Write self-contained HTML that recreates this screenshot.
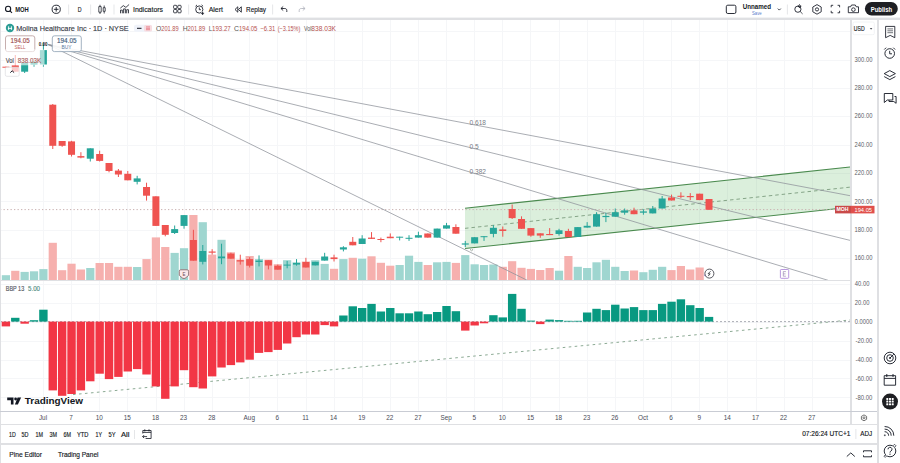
<!DOCTYPE html>
<html><head><meta charset="utf-8"><style>
html,body{margin:0;padding:0}
body{width:900px;height:463px;overflow:hidden;background:#fff;position:relative;font-family:"Liberation Sans",sans-serif;color:#131722}
.a{position:absolute}
svg text{font-family:"Liberation Sans",sans-serif}
</style></head><body>
<svg class="a" style="left:0;top:0" width="900" height="463" viewBox="0 0 900 463">
<g><line x1="43.5" y1="20" x2="43.5" y2="411" stroke="#f5f6f8" stroke-width="1"/>
<line x1="71.5" y1="20" x2="71.5" y2="411" stroke="#f5f6f8" stroke-width="1"/>
<line x1="99.5" y1="20" x2="99.5" y2="411" stroke="#f5f6f8" stroke-width="1"/>
<line x1="127.5" y1="20" x2="127.5" y2="411" stroke="#f5f6f8" stroke-width="1"/>
<line x1="156.5" y1="20" x2="156.5" y2="411" stroke="#f5f6f8" stroke-width="1"/>
<line x1="184.5" y1="20" x2="184.5" y2="411" stroke="#f5f6f8" stroke-width="1"/>
<line x1="212.5" y1="20" x2="212.5" y2="411" stroke="#f5f6f8" stroke-width="1"/>
<line x1="249.5" y1="20" x2="249.5" y2="411" stroke="#f5f6f8" stroke-width="1"/>
<line x1="277.5" y1="20" x2="277.5" y2="411" stroke="#f5f6f8" stroke-width="1"/>
<line x1="306.5" y1="20" x2="306.5" y2="411" stroke="#f5f6f8" stroke-width="1"/>
<line x1="334.5" y1="20" x2="334.5" y2="411" stroke="#f5f6f8" stroke-width="1"/>
<line x1="362.5" y1="20" x2="362.5" y2="411" stroke="#f5f6f8" stroke-width="1"/>
<line x1="390.5" y1="20" x2="390.5" y2="411" stroke="#f5f6f8" stroke-width="1"/>
<line x1="418.5" y1="20" x2="418.5" y2="411" stroke="#f5f6f8" stroke-width="1"/>
<line x1="446.5" y1="20" x2="446.5" y2="411" stroke="#f5f6f8" stroke-width="1"/>
<line x1="474.5" y1="20" x2="474.5" y2="411" stroke="#f5f6f8" stroke-width="1"/>
<line x1="502.5" y1="20" x2="502.5" y2="411" stroke="#f5f6f8" stroke-width="1"/>
<line x1="530.5" y1="20" x2="530.5" y2="411" stroke="#f5f6f8" stroke-width="1"/>
<line x1="559.5" y1="20" x2="559.5" y2="411" stroke="#f5f6f8" stroke-width="1"/>
<line x1="587.5" y1="20" x2="587.5" y2="411" stroke="#f5f6f8" stroke-width="1"/>
<line x1="615.5" y1="20" x2="615.5" y2="411" stroke="#f5f6f8" stroke-width="1"/>
<line x1="643.5" y1="20" x2="643.5" y2="411" stroke="#f5f6f8" stroke-width="1"/>
<line x1="671.5" y1="20" x2="671.5" y2="411" stroke="#f5f6f8" stroke-width="1"/>
<line x1="699.5" y1="20" x2="699.5" y2="411" stroke="#f5f6f8" stroke-width="1"/>
<line x1="727.5" y1="20" x2="727.5" y2="411" stroke="#f5f6f8" stroke-width="1"/>
<line x1="756.5" y1="20" x2="756.5" y2="411" stroke="#f5f6f8" stroke-width="1"/>
<line x1="784.5" y1="20" x2="784.5" y2="411" stroke="#f5f6f8" stroke-width="1"/>
<line x1="812.5" y1="20" x2="812.5" y2="411" stroke="#f5f6f8" stroke-width="1"/>
<line x1="0" y1="31.5" x2="850" y2="31.5" stroke="#f5f6f8" stroke-width="1"/>
<line x1="0" y1="60.5" x2="850" y2="60.5" stroke="#f5f6f8" stroke-width="1"/>
<line x1="0" y1="88.5" x2="850" y2="88.5" stroke="#f5f6f8" stroke-width="1"/>
<line x1="0" y1="116.5" x2="850" y2="116.5" stroke="#f5f6f8" stroke-width="1"/>
<line x1="0" y1="145.5" x2="850" y2="145.5" stroke="#f5f6f8" stroke-width="1"/>
<line x1="0" y1="173.5" x2="850" y2="173.5" stroke="#f5f6f8" stroke-width="1"/>
<line x1="0" y1="201.5" x2="850" y2="201.5" stroke="#f5f6f8" stroke-width="1"/>
<line x1="0" y1="230.5" x2="850" y2="230.5" stroke="#f5f6f8" stroke-width="1"/>
<line x1="0" y1="258.5" x2="850" y2="258.5" stroke="#f5f6f8" stroke-width="1"/>
<line x1="0" y1="284.5" x2="850" y2="284.5" stroke="#f5f6f8" stroke-width="1"/>
<line x1="0" y1="303.5" x2="850" y2="303.5" stroke="#f5f6f8" stroke-width="1"/>
<line x1="0" y1="322.5" x2="850" y2="322.5" stroke="#f5f6f8" stroke-width="1"/>
<line x1="0" y1="341.5" x2="850" y2="341.5" stroke="#f5f6f8" stroke-width="1"/>
<line x1="0" y1="360.5" x2="850" y2="360.5" stroke="#f5f6f8" stroke-width="1"/>
<line x1="0" y1="378.5" x2="850" y2="378.5" stroke="#f5f6f8" stroke-width="1"/>
<line x1="0" y1="397.5" x2="850" y2="397.5" stroke="#f5f6f8" stroke-width="1"/>
<rect x="1.8" y="275.2" width="8.2" height="4.8" fill="#9fd6d0"/>
<rect x="11.17" y="270.8" width="8.2" height="9.2" fill="#f6b0ae"/>
<rect x="20.55" y="271.9" width="8.2" height="8.1" fill="#9fd6d0"/>
<rect x="29.92" y="271.3" width="8.2" height="8.7" fill="#9fd6d0"/>
<rect x="39.3" y="269.1" width="8.2" height="10.9" fill="#9fd6d0"/>
<rect x="48.67" y="242.8" width="8.2" height="37.2" fill="#f6b0ae"/>
<rect x="58.05" y="270.2" width="8.2" height="9.8" fill="#f6b0ae"/>
<rect x="67.43" y="263.7" width="8.2" height="16.3" fill="#f6b0ae"/>
<rect x="76.8" y="269.5" width="8.2" height="10.5" fill="#f6b0ae"/>
<rect x="86.18" y="268" width="8.2" height="12" fill="#9fd6d0"/>
<rect x="95.55" y="263" width="8.2" height="17" fill="#f6b0ae"/>
<rect x="104.93" y="263" width="8.2" height="17" fill="#f6b0ae"/>
<rect x="114.3" y="266.8" width="8.2" height="13.2" fill="#f6b0ae"/>
<rect x="123.68" y="266.8" width="8.2" height="13.2" fill="#f6b0ae"/>
<rect x="133.05" y="267" width="8.2" height="13" fill="#9fd6d0"/>
<rect x="142.43" y="259.1" width="8.2" height="20.9" fill="#f6b0ae"/>
<rect x="151.8" y="237.4" width="8.2" height="42.6" fill="#f6b0ae"/>
<rect x="161.18" y="247" width="8.2" height="33" fill="#f6b0ae"/>
<rect x="170.55" y="252.9" width="8.2" height="27.1" fill="#9fd6d0"/>
<rect x="179.93" y="248.2" width="8.2" height="31.8" fill="#9fd6d0"/>
<rect x="189.3" y="215" width="8.2" height="65" fill="#f6b0ae"/>
<rect x="198.68" y="222.2" width="8.2" height="57.8" fill="#9fd6d0"/>
<rect x="208.05" y="254.6" width="8.2" height="25.4" fill="#f6b0ae"/>
<rect x="217.43" y="239.8" width="8.2" height="40.2" fill="#9fd6d0"/>
<rect x="226.8" y="252.3" width="8.2" height="27.7" fill="#f6b0ae"/>
<rect x="236.18" y="259.6" width="8.2" height="20.4" fill="#f6b0ae"/>
<rect x="245.55" y="256" width="8.2" height="24" fill="#f6b0ae"/>
<rect x="254.92" y="259.1" width="8.2" height="20.9" fill="#9fd6d0"/>
<rect x="264.3" y="259.6" width="8.2" height="20.4" fill="#f6b0ae"/>
<rect x="273.67" y="264.2" width="8.2" height="15.8" fill="#f6b0ae"/>
<rect x="283.05" y="260.2" width="8.2" height="19.8" fill="#9fd6d0"/>
<rect x="292.42" y="262.4" width="8.2" height="17.6" fill="#9fd6d0"/>
<rect x="301.8" y="261.5" width="8.2" height="18.5" fill="#f6b0ae"/>
<rect x="311.17" y="260.2" width="8.2" height="19.8" fill="#9fd6d0"/>
<rect x="320.55" y="263.9" width="8.2" height="16.1" fill="#9fd6d0"/>
<rect x="329.92" y="268.8" width="8.2" height="11.2" fill="#f6b0ae"/>
<rect x="339.3" y="259.1" width="8.2" height="20.9" fill="#9fd6d0"/>
<rect x="348.67" y="257.8" width="8.2" height="22.2" fill="#f6b0ae"/>
<rect x="358.05" y="258.7" width="8.2" height="21.3" fill="#9fd6d0"/>
<rect x="367.42" y="256.3" width="8.2" height="23.7" fill="#f6b0ae"/>
<rect x="376.8" y="262.8" width="8.2" height="17.2" fill="#f6b0ae"/>
<rect x="386.17" y="265.7" width="8.2" height="14.3" fill="#f6b0ae"/>
<rect x="395.55" y="265" width="8.2" height="15" fill="#9fd6d0"/>
<rect x="404.92" y="255.7" width="8.2" height="24.3" fill="#9fd6d0"/>
<rect x="414.3" y="261.9" width="8.2" height="18.1" fill="#9fd6d0"/>
<rect x="423.67" y="265" width="8.2" height="15" fill="#f6b0ae"/>
<rect x="433.05" y="262.3" width="8.2" height="17.7" fill="#9fd6d0"/>
<rect x="442.42" y="261.9" width="8.2" height="18.1" fill="#9fd6d0"/>
<rect x="451.8" y="262.9" width="8.2" height="17.1" fill="#f6b0ae"/>
<rect x="461.17" y="255.1" width="8.2" height="24.9" fill="#9fd6d0"/>
<rect x="470.55" y="264.3" width="8.2" height="15.7" fill="#9fd6d0"/>
<rect x="479.92" y="265" width="8.2" height="15" fill="#9fd6d0"/>
<rect x="489.3" y="264.5" width="8.2" height="15.5" fill="#9fd6d0"/>
<rect x="498.67" y="266.8" width="8.2" height="13.2" fill="#f6b0ae"/>
<rect x="508.05" y="261.2" width="8.2" height="18.8" fill="#f6b0ae"/>
<rect x="517.42" y="267.8" width="8.2" height="12.2" fill="#f6b0ae"/>
<rect x="526.8" y="268.9" width="8.2" height="11.1" fill="#f6b0ae"/>
<rect x="536.17" y="270" width="8.2" height="10" fill="#f6b0ae"/>
<rect x="545.55" y="268" width="8.2" height="12" fill="#f6b0ae"/>
<rect x="554.92" y="270.7" width="8.2" height="9.3" fill="#9fd6d0"/>
<rect x="564.3" y="256" width="8.2" height="24" fill="#f6b0ae"/>
<rect x="573.67" y="266.8" width="8.2" height="13.2" fill="#9fd6d0"/>
<rect x="583.05" y="268" width="8.2" height="12" fill="#9fd6d0"/>
<rect x="592.42" y="262.3" width="8.2" height="17.7" fill="#9fd6d0"/>
<rect x="601.8" y="259.8" width="8.2" height="20.2" fill="#9fd6d0"/>
<rect x="611.17" y="266.8" width="8.2" height="13.2" fill="#9fd6d0"/>
<rect x="620.55" y="271" width="8.2" height="9" fill="#9fd6d0"/>
<rect x="629.92" y="270.5" width="8.2" height="9.5" fill="#f6b0ae"/>
<rect x="639.3" y="272.2" width="8.2" height="7.8" fill="#9fd6d0"/>
<rect x="648.67" y="269.8" width="8.2" height="10.2" fill="#9fd6d0"/>
<rect x="658.05" y="266.8" width="8.2" height="13.2" fill="#9fd6d0"/>
<rect x="667.42" y="270.1" width="8.2" height="9.9" fill="#f6b0ae"/>
<rect x="676.8" y="266" width="8.2" height="14" fill="#f6b0ae"/>
<rect x="686.17" y="269.5" width="8.2" height="10.5" fill="#f6b0ae"/>
<rect x="695.55" y="267.5" width="8.2" height="12.5" fill="#f6b0ae"/>
<polygon points="465,208.2 850,167 850,207.31 465,248.5" fill="#4caf50" fill-opacity="0.2"/>
<line x1="465" y1="208.2" x2="850" y2="167" stroke="#4a8a4e" stroke-width="1.1"/>
<line x1="465" y1="248.5" x2="850" y2="207.31" stroke="#4a8a4e" stroke-width="1.1"/>
<line x1="465" y1="228.35" x2="850" y2="187.16" stroke="#7c9c7e" stroke-width="0.9" stroke-dasharray="3.5 3"/>
<line x1="0" y1="209.6" x2="850" y2="209.6" stroke="#c9b1b1" stroke-width="1" stroke-dasharray="1.3 2.2"/>
<line x1="48" y1="44.5" x2="850" y2="195.68" stroke="#8e919a" stroke-width="0.75"/>
<line x1="48" y1="44.5" x2="850" y2="240.35" stroke="#8e919a" stroke-width="0.75"/>
<line x1="48" y1="44.5" x2="828.02" y2="280.3" stroke="#8e919a" stroke-width="0.75"/>
<line x1="48" y1="44.5" x2="527.27" y2="280.3" stroke="#8e919a" stroke-width="0.75"/>
<rect x="5.4" y="66.7" width="1" height="1" fill="#ef5350"/>
<rect x="2.4" y="66.7" width="7" height="1" fill="#ef5350"/>
<rect x="14.77" y="55" width="1" height="16.7" fill="#ef5350"/>
<rect x="11.77" y="65.3" width="7" height="6.4" fill="#ef5350"/>
<rect x="24.15" y="62.8" width="1" height="10.2" fill="#26a69a"/>
<rect x="21.15" y="62.8" width="7" height="8.9" fill="#26a69a"/>
<rect x="33.52" y="61.7" width="1" height="5" fill="#26a69a"/>
<rect x="30.52" y="61.7" width="7" height="3" fill="#26a69a"/>
<rect x="42.9" y="43" width="1" height="23.7" fill="#26a69a"/>
<rect x="39.9" y="50.1" width="7" height="14.4" fill="#26a69a"/>
<rect x="52.27" y="104" width="1" height="45" fill="#ef5350"/>
<rect x="49.27" y="104.7" width="7" height="41.1" fill="#ef5350"/>
<rect x="61.65" y="141" width="1" height="5.8" fill="#ef5350"/>
<rect x="58.65" y="141" width="7" height="4.8" fill="#ef5350"/>
<rect x="71.03" y="140.8" width="1" height="15.7" fill="#ef5350"/>
<rect x="68.03" y="141.4" width="7" height="13.4" fill="#ef5350"/>
<rect x="80.4" y="152.2" width="1" height="6.1" fill="#ef5350"/>
<rect x="77.4" y="156.1" width="7" height="1.5" fill="#ef5350"/>
<rect x="89.78" y="148.3" width="1" height="13.2" fill="#26a69a"/>
<rect x="86.78" y="148.3" width="7" height="10.4" fill="#26a69a"/>
<rect x="99.15" y="150.7" width="1" height="10.8" fill="#ef5350"/>
<rect x="96.15" y="154" width="7" height="6.9" fill="#ef5350"/>
<rect x="108.53" y="163" width="1" height="9.3" fill="#ef5350"/>
<rect x="105.53" y="163" width="7" height="8" fill="#ef5350"/>
<rect x="117.9" y="169" width="1" height="8" fill="#ef5350"/>
<rect x="114.9" y="170.6" width="7" height="3.9" fill="#ef5350"/>
<rect x="127.28" y="171" width="1" height="9.3" fill="#ef5350"/>
<rect x="124.28" y="173.8" width="7" height="6.5" fill="#ef5350"/>
<rect x="136.65" y="175.8" width="1" height="8.6" fill="#26a69a"/>
<rect x="133.65" y="178.4" width="7" height="3.4" fill="#26a69a"/>
<rect x="146.03" y="182.7" width="1" height="17.9" fill="#ef5350"/>
<rect x="143.03" y="187" width="7" height="8.7" fill="#ef5350"/>
<rect x="155.4" y="196.3" width="1" height="29.6" fill="#ef5350"/>
<rect x="152.4" y="196.3" width="7" height="29.6" fill="#ef5350"/>
<rect x="164.78" y="225" width="1" height="11.3" fill="#ef5350"/>
<rect x="161.78" y="225" width="7" height="9.8" fill="#ef5350"/>
<rect x="174.15" y="225.5" width="1" height="8.5" fill="#26a69a"/>
<rect x="171.15" y="229.1" width="7" height="3.9" fill="#26a69a"/>
<rect x="183.53" y="215.1" width="1" height="13.6" fill="#26a69a"/>
<rect x="180.53" y="215.1" width="7" height="10.8" fill="#26a69a"/>
<rect x="192.9" y="229.8" width="1" height="30.9" fill="#ef5350"/>
<rect x="189.9" y="240" width="7" height="20.7" fill="#ef5350"/>
<rect x="202.28" y="245" width="1" height="19.4" fill="#26a69a"/>
<rect x="199.28" y="251" width="7" height="10.8" fill="#26a69a"/>
<rect x="211.65" y="249.2" width="1" height="5.4" fill="#ef5350"/>
<rect x="208.65" y="251.5" width="7" height="1.2" fill="#ef5350"/>
<rect x="221.03" y="243.7" width="1" height="20.5" fill="#26a69a"/>
<rect x="218.03" y="256.5" width="7" height="1.8" fill="#26a69a"/>
<rect x="230.4" y="252.7" width="1" height="6" fill="#ef5350"/>
<rect x="227.4" y="253.6" width="7" height="5.1" fill="#ef5350"/>
<rect x="239.78" y="254.7" width="1" height="9.9" fill="#ef5350"/>
<rect x="236.78" y="260.2" width="7" height="1.3" fill="#ef5350"/>
<rect x="249.15" y="257.2" width="1" height="10.3" fill="#ef5350"/>
<rect x="246.15" y="259.1" width="7" height="6.6" fill="#ef5350"/>
<rect x="258.52" y="255.4" width="1" height="11" fill="#26a69a"/>
<rect x="255.52" y="260.6" width="7" height="1.4" fill="#26a69a"/>
<rect x="267.9" y="260.2" width="1" height="9.2" fill="#ef5350"/>
<rect x="264.9" y="260.2" width="7" height="5.3" fill="#ef5350"/>
<rect x="277.27" y="264.6" width="1" height="5.1" fill="#ef5350"/>
<rect x="274.27" y="265.7" width="7" height="4" fill="#ef5350"/>
<rect x="286.65" y="260.9" width="1" height="7.4" fill="#26a69a"/>
<rect x="283.65" y="264.6" width="7" height="1" fill="#26a69a"/>
<rect x="296.02" y="259.1" width="1" height="6.6" fill="#26a69a"/>
<rect x="293.02" y="262.9" width="7" height="1.7" fill="#26a69a"/>
<rect x="305.4" y="257.8" width="1" height="9.7" fill="#ef5350"/>
<rect x="302.4" y="262" width="7" height="5.5" fill="#ef5350"/>
<rect x="314.77" y="261.8" width="1" height="3.6" fill="#26a69a"/>
<rect x="311.77" y="261.8" width="7" height="3.6" fill="#26a69a"/>
<rect x="324.15" y="252.8" width="1" height="7.8" fill="#26a69a"/>
<rect x="321.15" y="256.5" width="7" height="4.1" fill="#26a69a"/>
<rect x="333.52" y="254.7" width="1" height="6.8" fill="#ef5350"/>
<rect x="330.52" y="257.4" width="7" height="1.7" fill="#ef5350"/>
<rect x="342.9" y="246.2" width="1" height="5.2" fill="#26a69a"/>
<rect x="339.9" y="247.3" width="7" height="2.2" fill="#26a69a"/>
<rect x="352.27" y="237" width="1" height="8.3" fill="#ef5350"/>
<rect x="349.27" y="241.8" width="7" height="3.5" fill="#ef5350"/>
<rect x="361.65" y="235.2" width="1" height="8.8" fill="#26a69a"/>
<rect x="358.65" y="238.5" width="7" height="5.5" fill="#26a69a"/>
<rect x="371.02" y="232.1" width="1" height="6.8" fill="#ef5350"/>
<rect x="368.02" y="237.6" width="7" height="1.3" fill="#ef5350"/>
<rect x="380.4" y="237.6" width="1" height="4.6" fill="#ef5350"/>
<rect x="377.4" y="239" width="7" height="1" fill="#ef5350"/>
<rect x="389.77" y="233.4" width="1" height="4.8" fill="#ef5350"/>
<rect x="386.77" y="236.7" width="7" height="1.5" fill="#ef5350"/>
<rect x="399.15" y="236.7" width="1" height="3.7" fill="#26a69a"/>
<rect x="396.15" y="236.7" width="7" height="1" fill="#26a69a"/>
<rect x="408.52" y="235.2" width="1" height="5.7" fill="#26a69a"/>
<rect x="405.52" y="237.8" width="7" height="1" fill="#26a69a"/>
<rect x="417.9" y="231.7" width="1" height="5.9" fill="#26a69a"/>
<rect x="414.9" y="235.2" width="7" height="2.4" fill="#26a69a"/>
<rect x="427.27" y="233.5" width="1" height="4.1" fill="#ef5350"/>
<rect x="424.27" y="233.5" width="7" height="4.1" fill="#ef5350"/>
<rect x="436.65" y="228.6" width="1" height="9" fill="#26a69a"/>
<rect x="433.65" y="228.6" width="7" height="9" fill="#26a69a"/>
<rect x="446.02" y="222.9" width="1" height="5.7" fill="#26a69a"/>
<rect x="443.02" y="225.3" width="7" height="3.3" fill="#26a69a"/>
<rect x="455.4" y="224.3" width="1" height="9.4" fill="#ef5350"/>
<rect x="452.4" y="227" width="7" height="6.7" fill="#ef5350"/>
<rect x="464.77" y="240.9" width="1" height="6.2" fill="#26a69a"/>
<rect x="461.77" y="243.4" width="7" height="1.2" fill="#26a69a"/>
<rect x="474.15" y="237.2" width="1" height="6.2" fill="#26a69a"/>
<rect x="471.15" y="237.2" width="7" height="6.2" fill="#26a69a"/>
<rect x="483.52" y="236.2" width="1" height="4.7" fill="#26a69a"/>
<rect x="480.52" y="236.2" width="7" height="1" fill="#26a69a"/>
<rect x="492.9" y="225.2" width="1" height="12.1" fill="#26a69a"/>
<rect x="489.9" y="227.8" width="7" height="6.1" fill="#26a69a"/>
<rect x="502.27" y="226.5" width="1" height="10.2" fill="#ef5350"/>
<rect x="499.27" y="229.4" width="7" height="1.6" fill="#ef5350"/>
<rect x="511.65" y="204.5" width="1" height="14.5" fill="#ef5350"/>
<rect x="508.65" y="209" width="7" height="9.1" fill="#ef5350"/>
<rect x="521.02" y="216.3" width="1" height="12.5" fill="#ef5350"/>
<rect x="518.02" y="219" width="7" height="9.8" fill="#ef5350"/>
<rect x="530.4" y="228.1" width="1" height="8.6" fill="#ef5350"/>
<rect x="527.4" y="228.1" width="7" height="7.5" fill="#ef5350"/>
<rect x="539.77" y="233.3" width="1" height="4.5" fill="#ef5350"/>
<rect x="536.77" y="233.3" width="7" height="2.3" fill="#ef5350"/>
<rect x="549.15" y="228.1" width="1" height="7" fill="#ef5350"/>
<rect x="546.15" y="234" width="7" height="1.1" fill="#ef5350"/>
<rect x="558.52" y="228.8" width="1" height="6.8" fill="#26a69a"/>
<rect x="555.52" y="230.3" width="7" height="3.7" fill="#26a69a"/>
<rect x="567.9" y="228.8" width="1" height="8.3" fill="#ef5350"/>
<rect x="564.9" y="231" width="7" height="6.1" fill="#ef5350"/>
<rect x="577.27" y="227.1" width="1" height="9.9" fill="#26a69a"/>
<rect x="574.27" y="227.1" width="7" height="9.9" fill="#26a69a"/>
<rect x="586.65" y="222.1" width="1" height="5.5" fill="#26a69a"/>
<rect x="583.65" y="225.8" width="7" height="1.8" fill="#26a69a"/>
<rect x="596.02" y="212.2" width="1" height="14.4" fill="#26a69a"/>
<rect x="593.02" y="214.2" width="7" height="12.4" fill="#26a69a"/>
<rect x="605.4" y="212.7" width="1" height="9.4" fill="#26a69a"/>
<rect x="602.4" y="215.9" width="7" height="1.2" fill="#26a69a"/>
<rect x="614.77" y="208.5" width="1" height="8.2" fill="#26a69a"/>
<rect x="611.77" y="212.2" width="7" height="4.5" fill="#26a69a"/>
<rect x="624.15" y="208.5" width="1" height="6.2" fill="#26a69a"/>
<rect x="621.15" y="210.4" width="7" height="2.3" fill="#26a69a"/>
<rect x="633.52" y="207.7" width="1" height="6.5" fill="#ef5350"/>
<rect x="630.52" y="210.4" width="7" height="3.8" fill="#ef5350"/>
<rect x="642.9" y="209.2" width="1" height="5.5" fill="#26a69a"/>
<rect x="639.9" y="211.4" width="7" height="1.3" fill="#26a69a"/>
<rect x="652.27" y="206" width="1" height="7.4" fill="#26a69a"/>
<rect x="649.27" y="208.5" width="7" height="4.9" fill="#26a69a"/>
<rect x="661.65" y="196" width="1" height="12.5" fill="#26a69a"/>
<rect x="658.65" y="198.5" width="7" height="10" fill="#26a69a"/>
<rect x="671.02" y="194.6" width="1" height="5.9" fill="#ef5350"/>
<rect x="668.02" y="197.5" width="7" height="3" fill="#ef5350"/>
<rect x="680.4" y="192.3" width="1" height="5.8" fill="#ef5350"/>
<rect x="677.4" y="195.8" width="7" height="1" fill="#ef5350"/>
<rect x="689.77" y="193.1" width="1" height="7" fill="#ef5350"/>
<rect x="686.77" y="196" width="7" height="1.2" fill="#ef5350"/>
<rect x="699.15" y="193.7" width="1" height="6.4" fill="#ef5350"/>
<rect x="696.15" y="193.7" width="7" height="6.4" fill="#ef5350"/>
<rect x="708.52" y="199" width="1" height="10.8" fill="#ef5350"/>
<rect x="705.52" y="199" width="7" height="10.8" fill="#ef5350"/>
<text x="469.5" y="124.6" font-size="6.6" fill="#787b86">0.618</text>
<text x="469.5" y="149.3" font-size="6.6" fill="#787b86">0.5</text>
<text x="469.5" y="173.8" font-size="6.6" fill="#787b86">0.382</text>
<line x1="73" y1="394.6" x2="850" y2="320" stroke="#7fa088" stroke-width="0.9" stroke-dasharray="2.6 3.4"/>
<line x1="0" y1="321.6" x2="850" y2="321.6" stroke="#9598a1" stroke-width="0.8" stroke-dasharray="2 2"/>
<rect x="1.7" y="321.6" width="8.4" height="4.8" fill="#f23645"/>
<rect x="11.07" y="317.8" width="8.4" height="3.8" fill="#089981"/>
<rect x="20.45" y="321.6" width="8.4" height="2.1" fill="#f23645"/>
<rect x="29.82" y="320.2" width="8.4" height="1.4" fill="#089981"/>
<rect x="39.2" y="309.7" width="8.4" height="11.9" fill="#089981"/>
<rect x="48.57" y="321.6" width="8.4" height="68.8" fill="#f23645"/>
<rect x="57.95" y="321.6" width="8.4" height="74.2" fill="#f23645"/>
<rect x="67.33" y="321.6" width="8.4" height="72.4" fill="#f23645"/>
<rect x="76.7" y="321.6" width="8.4" height="68.8" fill="#f23645"/>
<rect x="86.08" y="321.6" width="8.4" height="59.7" fill="#f23645"/>
<rect x="95.45" y="321.6" width="8.4" height="52.1" fill="#f23645"/>
<rect x="104.83" y="321.6" width="8.4" height="57.5" fill="#f23645"/>
<rect x="114.2" y="321.6" width="8.4" height="55.3" fill="#f23645"/>
<rect x="123.58" y="321.6" width="8.4" height="49.9" fill="#f23645"/>
<rect x="132.95" y="321.6" width="8.4" height="47.5" fill="#f23645"/>
<rect x="142.33" y="321.6" width="8.4" height="52.9" fill="#f23645"/>
<rect x="151.7" y="321.6" width="8.4" height="64.8" fill="#f23645"/>
<rect x="161.08" y="321.6" width="8.4" height="77.2" fill="#f23645"/>
<rect x="170.45" y="321.6" width="8.4" height="64.8" fill="#f23645"/>
<rect x="179.83" y="321.6" width="8.4" height="48.6" fill="#f23645"/>
<rect x="189.2" y="321.6" width="8.4" height="65.6" fill="#f23645"/>
<rect x="198.58" y="321.6" width="8.4" height="66.9" fill="#f23645"/>
<rect x="207.95" y="321.6" width="8.4" height="54.8" fill="#f23645"/>
<rect x="217.33" y="321.6" width="8.4" height="45.9" fill="#f23645"/>
<rect x="226.7" y="321.6" width="8.4" height="43.5" fill="#f23645"/>
<rect x="236.08" y="321.6" width="8.4" height="40.8" fill="#f23645"/>
<rect x="245.45" y="321.6" width="8.4" height="38.1" fill="#f23645"/>
<rect x="254.82" y="321.6" width="8.4" height="31.3" fill="#f23645"/>
<rect x="264.2" y="321.6" width="8.4" height="30.5" fill="#f23645"/>
<rect x="273.57" y="321.6" width="8.4" height="28.3" fill="#f23645"/>
<rect x="282.95" y="321.6" width="8.4" height="21.9" fill="#f23645"/>
<rect x="292.32" y="321.6" width="8.4" height="15.6" fill="#f23645"/>
<rect x="301.7" y="321.6" width="8.4" height="12.9" fill="#f23645"/>
<rect x="311.07" y="321.6" width="8.4" height="12.9" fill="#f23645"/>
<rect x="320.45" y="321.6" width="8.4" height="3.5" fill="#f23645"/>
<rect x="329.82" y="321.6" width="8.4" height="4.8" fill="#f23645"/>
<rect x="339.2" y="315.5" width="8.4" height="6.1" fill="#089981"/>
<rect x="348.57" y="306.3" width="8.4" height="15.3" fill="#089981"/>
<rect x="357.95" y="308" width="8.4" height="13.6" fill="#089981"/>
<rect x="367.32" y="303.9" width="8.4" height="17.7" fill="#089981"/>
<rect x="376.7" y="311.5" width="8.4" height="10.1" fill="#089981"/>
<rect x="386.07" y="308" width="8.4" height="13.6" fill="#089981"/>
<rect x="395.45" y="313.3" width="8.4" height="8.3" fill="#089981"/>
<rect x="404.82" y="313.3" width="8.4" height="8.3" fill="#089981"/>
<rect x="414.2" y="311.5" width="8.4" height="10.1" fill="#089981"/>
<rect x="423.57" y="314.2" width="8.4" height="7.4" fill="#089981"/>
<rect x="432.95" y="312" width="8.4" height="9.6" fill="#089981"/>
<rect x="442.32" y="306" width="8.4" height="15.6" fill="#089981"/>
<rect x="451.7" y="311.2" width="8.4" height="10.4" fill="#089981"/>
<rect x="461.07" y="321.6" width="8.4" height="9" fill="#f23645"/>
<rect x="470.45" y="321.6" width="8.4" height="3.9" fill="#f23645"/>
<rect x="479.82" y="321.6" width="8.4" height="1.7" fill="#f23645"/>
<rect x="489.2" y="315.2" width="8.4" height="6.4" fill="#089981"/>
<rect x="498.57" y="317.4" width="8.4" height="4.2" fill="#089981"/>
<rect x="507.95" y="293.9" width="8.4" height="27.7" fill="#089981"/>
<rect x="517.32" y="308.8" width="8.4" height="12.8" fill="#089981"/>
<rect x="526.7" y="320.6" width="8.4" height="1" fill="#089981"/>
<rect x="536.07" y="321.6" width="8.4" height="2.5" fill="#f23645"/>
<rect x="545.45" y="319.6" width="8.4" height="2" fill="#089981"/>
<rect x="554.82" y="320.1" width="8.4" height="1.5" fill="#089981"/>
<rect x="564.2" y="320.8" width="8.4" height="0.8" fill="#089981"/>
<rect x="573.57" y="320.8" width="8.4" height="0.8" fill="#089981"/>
<rect x="582.95" y="312.5" width="8.4" height="9.1" fill="#089981"/>
<rect x="592.32" y="308.8" width="8.4" height="12.8" fill="#089981"/>
<rect x="601.7" y="310.1" width="8.4" height="11.5" fill="#089981"/>
<rect x="611.07" y="304.7" width="8.4" height="16.9" fill="#089981"/>
<rect x="620.45" y="308.5" width="8.4" height="13.1" fill="#089981"/>
<rect x="629.82" y="307.1" width="8.4" height="14.5" fill="#089981"/>
<rect x="639.2" y="310.1" width="8.4" height="11.5" fill="#089981"/>
<rect x="648.57" y="310.1" width="8.4" height="11.5" fill="#089981"/>
<rect x="657.95" y="303.9" width="8.4" height="17.7" fill="#089981"/>
<rect x="667.32" y="301.7" width="8.4" height="19.9" fill="#089981"/>
<rect x="676.7" y="299.3" width="8.4" height="22.3" fill="#089981"/>
<rect x="686.07" y="305.2" width="8.4" height="16.4" fill="#089981"/>
<rect x="695.45" y="308" width="8.4" height="13.6" fill="#089981"/>
<rect x="704.82" y="316.9" width="8.4" height="4.7" fill="#089981"/>
<rect x="0" y="280" width="850" height="1" fill="#dfe0e3"/></g>
<!-- frame -->
<rect x="0" y="17.6" width="900" height="2.4" fill="#dfe0e3"/>
<rect x="0" y="20" width="1" height="443" fill="#dfe0e3"/>
<rect x="850" y="20" width="2" height="404.5" fill="#dfe0e3"/>
<rect x="877" y="20" width="2" height="443" fill="#dfe0e3"/>
<rect x="0" y="411" width="877" height="1" fill="#c9ccd4"/>
<rect x="0" y="424" width="877" height="1" fill="#dfe0e3"/>
<rect x="0" y="443" width="877" height="2" fill="#dfe0e3"/>
<circle cx="8.1" cy="8.9" r="2.6" fill="none" stroke="#131722" stroke-width="1.1"/>
<line x1="10" y1="10.9" x2="12" y2="12.9" stroke="#131722" stroke-width="1.1"/>
<text x="15.3" y="11.78" font-size="7.2" fill="#131722" font-weight="bold" textLength="13.5" lengthAdjust="spacingAndGlyphs">MOH</text>
<circle cx="56.2" cy="9.3" r="4.1" fill="none" stroke="#131722" stroke-width="0.9"/>
<path d="M56.2 7v4.6M53.9 9.3h4.6" stroke="#131722" stroke-width="0.9"/>
<rect x="68.3" y="4.5" width="0.8" height="10" fill="#dfe0e3"/>
<rect x="90.3" y="4.5" width="0.8" height="10" fill="#dfe0e3"/>
<rect x="113.6" y="4.5" width="0.8" height="10" fill="#dfe0e3"/>
<rect x="188.3" y="4.5" width="0.8" height="10" fill="#dfe0e3"/>
<rect x="272.3" y="4.5" width="0.8" height="10" fill="#dfe0e3"/>
<rect x="786.9" y="4.5" width="0.8" height="10" fill="#dfe0e3"/>
<text x="77.8" y="11.91" font-size="7" fill="#131722" font-weight="normal" textLength="3.8" lengthAdjust="spacingAndGlyphs" stroke="#131722" stroke-width="0.15">D</text>
<path d="M100 4.8v1.8M100 12.2v1.8M98.8 6.6h2.4v5.6h-2.4zM104.2 5.5v2.2M104.2 11.3v2.2M103.2 7.7h2v3.6h-2z" fill="none" stroke="#131722" stroke-width="0.75"/>
<path d="M120.5 13.3v-3.2h1.8v3.2M123.6 13.3v-4.4h1.8v4.4M126.7 13.3v-3.6h1.8v3.6M120.3 8.2l3-2.6 2.6 1.8 3.2-2.9" fill="none" stroke="#131722" stroke-width="0.8"/>
<text x="133" y="11.78" font-size="7.2" fill="#131722" font-weight="normal" textLength="30" lengthAdjust="spacingAndGlyphs" stroke="#131722" stroke-width="0.14">Indicators</text>
<rect x="173.6" y="5.3" width="3.3" height="3.3" rx="0.8" fill="none" stroke="#131722" stroke-width="0.8"/>
<rect x="173.6" y="9.5" width="3.3" height="3.3" rx="0.8" fill="none" stroke="#131722" stroke-width="0.8"/>
<rect x="177.8" y="5.3" width="3.3" height="3.3" rx="0.8" fill="none" stroke="#131722" stroke-width="0.8"/>
<rect x="177.8" y="9.5" width="3.3" height="3.3" rx="0.8" fill="none" stroke="#131722" stroke-width="0.8"/>
<circle cx="199.3" cy="9.5" r="3.6" fill="none" stroke="#131722" stroke-width="0.85"/>
<path d="M199.3 7.5v2.2h1.6M195.5 6.3l1.5-1.4M203.1 6.3l-1.5-1.4M202.6 12.3v2.6M201.3 13.6h2.6" fill="none" stroke="#131722" stroke-width="0.85"/>
<rect x="201.2" y="11.5" width="2.8" height="3" fill="#fff"/>
<path d="M202.6 11.8v3M201.1 13.3h3" stroke="#131722" stroke-width="0.85"/>
<text x="208.7" y="11.78" font-size="7.2" fill="#131722" font-weight="normal" textLength="14.3" lengthAdjust="spacingAndGlyphs" stroke="#131722" stroke-width="0.14">Alert</text>
<path d="M237.8 6.8l-2.8 2.7 2.8 2.7zM241.3 6.8l-2.8 2.7 2.8 2.7z" fill="none" stroke="#131722" stroke-width="0.85" stroke-linejoin="round"/>
<text x="246" y="11.78" font-size="7.2" fill="#131722" font-weight="normal" textLength="20" lengthAdjust="spacingAndGlyphs" stroke="#131722" stroke-width="0.14">Replay</text>
<path d="M283.2 6.5l-2.3 2 2.3 2M281 8.5h3.8c1.3 0 2 .8 2 2v1.5" fill="none" stroke="#131722" stroke-width="0.85"/>
<path d="M302.8 6.5l2.3 2-2.3 2M305 8.5h-3.8c-1.3 0-2 .8-2 2v1.5" fill="none" stroke="#b2b5be" stroke-width="0.85"/>
<rect x="726.3" y="5.2" width="9.6" height="8.3" rx="1.5" fill="none" stroke="#131722" stroke-width="0.9"/>
<text x="742.7" y="9.1" font-size="6.4" fill="#131722" font-weight="bold" textLength="28.3" lengthAdjust="spacingAndGlyphs">Unnamed</text>
<text x="752" y="14.55" font-size="4.8" fill="#5b7ccc" font-weight="normal" textLength="9.7" lengthAdjust="spacingAndGlyphs">Save</text>
<path d="M777.8 8.6l1.5 1.5 1.5-1.5" fill="none" stroke="#131722" stroke-width="0.8"/>
<circle cx="797.9" cy="9.2" r="3.1" fill="none" stroke="#131722" stroke-width="0.85"/>
<path d="M800.2 11.5l2.4 2.4M799.5 4.5l.5 1.2 1.2.5-1.2.5-.5 1.2-.5-1.2-1.2-.5 1.2-.5z" fill="none" stroke="#131722" stroke-width="0.75"/>
<path d="M817 4.6l4.2 2.4v4.8l-4.2 2.4-4.2-2.4v-4.8z" fill="none" stroke="#131722" stroke-width="0.85" stroke-linejoin="round"/>
<circle cx="817" cy="9.4" r="1.6" fill="none" stroke="#131722" stroke-width="0.85"/>
<path d="M831.2 7.3v-2h2M837.6 5.3h2v2M839.6 10.8v2h-2M833.2 12.8h-2v-2" fill="none" stroke="#131722" stroke-width="0.85"/>
<path d="M848.3 6.8h2.3l.9-1.8h3.8l.9 1.8h2.3v5.9h-10.2z" fill="none" stroke="#131722" stroke-width="0.85" stroke-linejoin="round"/>
<circle cx="853.4" cy="9.6" r="1.8" fill="none" stroke="#131722" stroke-width="0.85"/>
<rect x="864.9" y="2.1" width="32.9" height="13.4" rx="6.7" fill="#1e1f23"/>
<text x="870.7" y="11.71" font-size="7.3" fill="#ffffff" font-weight="bold" textLength="21.5" lengthAdjust="spacingAndGlyphs">Publish</text>
<circle cx="10" cy="28" r="4.2" fill="#2d9e96"/>
<path d="M8.6 26.3v3.6M11.4 26.3v3.6M7.9 28.4h4.2" stroke="#fff" stroke-width="0.9"/>
<text x="16.2" y="30.69" font-size="8.1" fill="#363a45" font-weight="normal" textLength="112.5" lengthAdjust="spacingAndGlyphs" stroke="#363a45" stroke-width="0.14">Molina Healthcare Inc · 1D · NYSE</text>
<rect x="134" y="24.7" width="18" height="7" rx="2" fill="#f0f3fa"/>
<rect x="144" y="24.9" width="8" height="6.6" rx="1.5" fill="#f8dde1"/>
<rect x="137" y="27.8" width="4.5" height="1" fill="#131722"/>
<path d="M146 26.9h4M146 28.3h4M146 29.7h4" stroke="#e0505f" stroke-width="0.6"/>
<text x="156" y="30.77" font-size="6.6" fill="#555" font-weight="normal" textLength="5.3" lengthAdjust="spacingAndGlyphs">O</text>
<text x="161.3" y="30.77" font-size="6.6" fill="#b5514f" font-weight="normal" textLength="17.4" lengthAdjust="spacingAndGlyphs">201.89</text>
<text x="182.7" y="30.77" font-size="6.6" fill="#555" font-weight="normal" textLength="4.9" lengthAdjust="spacingAndGlyphs">H</text>
<text x="187.6" y="30.77" font-size="6.6" fill="#b5514f" font-weight="normal" textLength="17.7" lengthAdjust="spacingAndGlyphs">201.89</text>
<text x="208.7" y="30.77" font-size="6.6" fill="#555" font-weight="normal" textLength="3.3" lengthAdjust="spacingAndGlyphs">L</text>
<text x="212" y="30.77" font-size="6.6" fill="#b5514f" font-weight="normal" textLength="18.7" lengthAdjust="spacingAndGlyphs">193.27</text>
<text x="234" y="30.77" font-size="6.6" fill="#555" font-weight="normal" textLength="5" lengthAdjust="spacingAndGlyphs">C</text>
<text x="239" y="30.77" font-size="6.6" fill="#b5514f" font-weight="normal" textLength="18.3" lengthAdjust="spacingAndGlyphs">194.05</text>
<text x="260.4" y="30.77" font-size="6.6" fill="#b5514f" font-weight="normal" textLength="14.9" lengthAdjust="spacingAndGlyphs">−6.31</text>
<text x="277.7" y="30.77" font-size="6.6" fill="#b5514f" font-weight="normal" textLength="22.7" lengthAdjust="spacingAndGlyphs">(−3.15%)</text>
<text x="304" y="30.77" font-size="6.6" fill="#555" font-weight="normal" textLength="7.3" lengthAdjust="spacingAndGlyphs">Vol</text>
<text x="311.3" y="30.77" font-size="6.6" fill="#b5514f" font-weight="normal" textLength="24.7" lengthAdjust="spacingAndGlyphs">838.03K</text>
<rect x="5.5" y="35.8" width="29.3" height="15.8" rx="2.2" fill="#ffffff" fill-opacity="0.9" stroke="#b89a9a" stroke-width="0.8"/>
<text x="10.6" y="42.97" font-size="6.6" fill="#9b4a4a" font-weight="normal" textLength="19" lengthAdjust="spacingAndGlyphs" stroke="#9b4a4a" stroke-width="0.14">194.05</text>
<text x="14.5" y="49.26" font-size="5.4" fill="#c0605d" font-weight="normal" textLength="11" lengthAdjust="spacingAndGlyphs">SELL</text>
<rect x="52.3" y="35.8" width="29" height="15.8" rx="2.2" fill="#ffffff" fill-opacity="0.9" stroke="#8d9fb3" stroke-width="0.8"/>
<text x="57" y="42.97" font-size="6.6" fill="#3d5a7a" font-weight="normal" textLength="19.5" lengthAdjust="spacingAndGlyphs" stroke="#3d5a7a" stroke-width="0.14">194.05</text>
<text x="61.5" y="49.26" font-size="5.4" fill="#5a78a0" font-weight="normal" textLength="10" lengthAdjust="spacingAndGlyphs">BUY</text>
<text x="38.8" y="45.55" font-size="4.8" fill="#131722" font-weight="bold" textLength="8.8" lengthAdjust="spacingAndGlyphs">0.00</text>
<rect x="4.5" y="49.5" width="40" height="15.8" fill="#ffffff" fill-opacity="0.6"/>
<text x="5.8" y="62.57" font-size="6.6" fill="#4a4a52" font-weight="normal" textLength="8.1" lengthAdjust="spacingAndGlyphs" stroke="#4a4a52" stroke-width="0.14">Vol</text>
<text x="17.8" y="62.57" font-size="6.6" fill="#a9605c" font-weight="normal" textLength="23.3" lengthAdjust="spacingAndGlyphs" stroke="#a9605c" stroke-width="0.14">838.03K</text>
<rect x="5.3" y="67.3" width="13.9" height="9" rx="1.5" fill="#ffffff" fill-opacity="0.7" stroke="#dfe0e3" stroke-width="0.8"/>
<path d="M10.3 72.6l1.9-1.8 1.9 1.8" fill="none" stroke="#131722" stroke-width="1"/>
<text x="5.8" y="290.74" font-size="6.8" fill="#50535c" font-weight="normal" textLength="18.4" lengthAdjust="spacingAndGlyphs" stroke="#50535c" stroke-width="0.14">BBP 13</text>
<text x="28" y="290.74" font-size="6.8" fill="#4f8a7e" font-weight="normal" textLength="12" lengthAdjust="spacingAndGlyphs" stroke="#4f8a7e" stroke-width="0.14">5.00</text>
<rect x="853" y="22" width="21.3" height="12.7" rx="1.5" fill="#fff" stroke="#eef0f3" stroke-width="0.8"/>
<text x="853.8" y="30.87" font-size="6.6" fill="#131722" font-weight="normal" textLength="10.8" lengthAdjust="spacingAndGlyphs" stroke="#131722" stroke-width="0.14">USD</text>
<path d="M869.8 28.3h2.6l-1.3 1.3z" fill="#131722"/>
<text x="854.6" y="61.79" font-size="6.5" fill="#5d6068" font-weight="normal" textLength="17.8" lengthAdjust="spacingAndGlyphs">300.00</text>
<text x="854.6" y="90.14" font-size="6.5" fill="#5d6068" font-weight="normal" textLength="17.8" lengthAdjust="spacingAndGlyphs">280.00</text>
<text x="854.6" y="118.49" font-size="6.5" fill="#5d6068" font-weight="normal" textLength="17.8" lengthAdjust="spacingAndGlyphs">260.00</text>
<text x="854.6" y="146.84" font-size="6.5" fill="#5d6068" font-weight="normal" textLength="17.8" lengthAdjust="spacingAndGlyphs">240.00</text>
<text x="854.6" y="175.19" font-size="6.5" fill="#5d6068" font-weight="normal" textLength="17.8" lengthAdjust="spacingAndGlyphs">220.00</text>
<text x="854.6" y="203.54" font-size="6.5" fill="#5d6068" font-weight="normal" textLength="17.8" lengthAdjust="spacingAndGlyphs">200.00</text>
<text x="854.6" y="231.89" font-size="6.5" fill="#5d6068" font-weight="normal" textLength="17.8" lengthAdjust="spacingAndGlyphs">180.00</text>
<text x="854.6" y="260.24" font-size="6.5" fill="#5d6068" font-weight="normal" textLength="17.8" lengthAdjust="spacingAndGlyphs">160.00</text>
<text x="854.8" y="285.94" font-size="6.5" fill="#5d6068" font-weight="normal" textLength="14.6" lengthAdjust="spacingAndGlyphs">40.00</text>
<text x="854.8" y="304.89" font-size="6.5" fill="#5d6068" font-weight="normal" textLength="14.6" lengthAdjust="spacingAndGlyphs">20.00</text>
<text x="855.5" y="342.79" font-size="6.5" fill="#5d6068" font-weight="normal" textLength="16.8" lengthAdjust="spacingAndGlyphs">-20.00</text>
<text x="855.5" y="361.74" font-size="6.5" fill="#5d6068" font-weight="normal" textLength="16.8" lengthAdjust="spacingAndGlyphs">-40.00</text>
<text x="855.5" y="380.69" font-size="6.5" fill="#5d6068" font-weight="normal" textLength="16.8" lengthAdjust="spacingAndGlyphs">-60.00</text>
<text x="855.5" y="399.64" font-size="6.5" fill="#5d6068" font-weight="normal" textLength="16.8" lengthAdjust="spacingAndGlyphs">-80.00</text>
<text x="854.8" y="323.64" font-size="6.5" fill="#5d6068" font-weight="normal" textLength="17.7" lengthAdjust="spacingAndGlyphs">0.0000</text>
<rect x="835" y="205.8" width="16" height="7.6" fill="#c94a49"/>
<rect x="851" y="205.8" width="23.5" height="7.6" fill="#e0504c"/>
<text x="836.5" y="211.39" font-size="5.2" fill="#fff" font-weight="bold" textLength="12" lengthAdjust="spacingAndGlyphs">MOH</text>
<text x="854.5" y="211.6" font-size="5.8" fill="#fff" font-weight="normal" textLength="17.5" lengthAdjust="spacingAndGlyphs">194.05</text>
<text x="43" y="420" font-size="6.4" fill="#4a4d57" text-anchor="middle">Jul</text>
<text x="71.12" y="420" font-size="6.4" fill="#4a4d57" text-anchor="middle">7</text>
<text x="99.25" y="420" font-size="6.4" fill="#4a4d57" text-anchor="middle">10</text>
<text x="127.38" y="420" font-size="6.4" fill="#4a4d57" text-anchor="middle">15</text>
<text x="155.5" y="420" font-size="6.4" fill="#4a4d57" text-anchor="middle">18</text>
<text x="183.62" y="420" font-size="6.4" fill="#4a4d57" text-anchor="middle">23</text>
<text x="211.75" y="420" font-size="6.4" fill="#4a4d57" text-anchor="middle">28</text>
<text x="249.25" y="420" font-size="6.4" fill="#4a4d57" text-anchor="middle">Aug</text>
<text x="277.38" y="420" font-size="6.4" fill="#4a4d57" text-anchor="middle">6</text>
<text x="305.5" y="420" font-size="6.4" fill="#4a4d57" text-anchor="middle">11</text>
<text x="333.62" y="420" font-size="6.4" fill="#4a4d57" text-anchor="middle">14</text>
<text x="361.75" y="420" font-size="6.4" fill="#4a4d57" text-anchor="middle">19</text>
<text x="389.88" y="420" font-size="6.4" fill="#4a4d57" text-anchor="middle">22</text>
<text x="418" y="420" font-size="6.4" fill="#4a4d57" text-anchor="middle">27</text>
<text x="446.12" y="420" font-size="6.4" fill="#4a4d57" text-anchor="middle">Sep</text>
<text x="474.25" y="420" font-size="6.4" fill="#4a4d57" text-anchor="middle">5</text>
<text x="502.38" y="420" font-size="6.4" fill="#4a4d57" text-anchor="middle">10</text>
<text x="530.5" y="420" font-size="6.4" fill="#4a4d57" text-anchor="middle">15</text>
<text x="558.62" y="420" font-size="6.4" fill="#4a4d57" text-anchor="middle">18</text>
<text x="586.75" y="420" font-size="6.4" fill="#4a4d57" text-anchor="middle">23</text>
<text x="614.88" y="420" font-size="6.4" fill="#4a4d57" text-anchor="middle">26</text>
<text x="643" y="420" font-size="6.4" fill="#4a4d57" text-anchor="middle">Oct</text>
<text x="671.12" y="420" font-size="6.4" fill="#4a4d57" text-anchor="middle">6</text>
<text x="699.25" y="420" font-size="6.4" fill="#4a4d57" text-anchor="middle">9</text>
<text x="727.38" y="420" font-size="6.4" fill="#4a4d57" text-anchor="middle">14</text>
<text x="755.5" y="420" font-size="6.4" fill="#4a4d57" text-anchor="middle">17</text>
<text x="783.62" y="420" font-size="6.4" fill="#4a4d57" text-anchor="middle">22</text>
<text x="811.75" y="420" font-size="6.4" fill="#4a4d57" text-anchor="middle">27</text>
<path d="M864 414.9l2.6 1.5v2.9l-2.6 1.5-2.6-1.5v-2.9z" fill="none" stroke="#444" stroke-width="0.75" stroke-linejoin="round"/>
<circle cx="864" cy="417.8" r="1" fill="none" stroke="#444" stroke-width="0.7"/>
<text x="9" y="436.8" font-size="6.4" fill="#131722" font-weight="normal" textLength="6.7" lengthAdjust="spacingAndGlyphs" stroke="#131722" stroke-width="0.14">1D</text>
<text x="21.5" y="436.8" font-size="6.4" fill="#131722" font-weight="normal" textLength="7" lengthAdjust="spacingAndGlyphs" stroke="#131722" stroke-width="0.14">5D</text>
<text x="35.5" y="436.8" font-size="6.4" fill="#131722" font-weight="normal" textLength="7.5" lengthAdjust="spacingAndGlyphs" stroke="#131722" stroke-width="0.14">1M</text>
<text x="49.5" y="436.8" font-size="6.4" fill="#131722" font-weight="normal" textLength="7.5" lengthAdjust="spacingAndGlyphs" stroke="#131722" stroke-width="0.14">3M</text>
<text x="63.5" y="436.8" font-size="6.4" fill="#131722" font-weight="normal" textLength="7.5" lengthAdjust="spacingAndGlyphs" stroke="#131722" stroke-width="0.14">6M</text>
<text x="77" y="436.8" font-size="6.4" fill="#131722" font-weight="normal" textLength="11.5" lengthAdjust="spacingAndGlyphs" stroke="#131722" stroke-width="0.14">YTD</text>
<text x="95.5" y="436.8" font-size="6.4" fill="#131722" font-weight="normal" textLength="6.5" lengthAdjust="spacingAndGlyphs" stroke="#131722" stroke-width="0.14">1Y</text>
<text x="108.5" y="436.8" font-size="6.4" fill="#131722" font-weight="normal" textLength="7" lengthAdjust="spacingAndGlyphs" stroke="#131722" stroke-width="0.14">5Y</text>
<text x="121" y="436.8" font-size="6.4" fill="#131722" font-weight="normal" textLength="8.5" lengthAdjust="spacingAndGlyphs" stroke="#131722" stroke-width="0.14">All</text>
<rect x="134" y="430" width="0.8" height="9" fill="#dfe0e3"/>
<path d="M142.8 433.5v-3h8.3v8h-5.5M142.8 432.4h8.3M144.8 429.3v2.2M149 429.3v2.2M142.6 436.6h4.5M144.1 435.1l-1.5 1.5 1.5 1.5" fill="none" stroke="#131722" stroke-width="0.8"/>
<text x="802.2" y="436.27" font-size="6.6" fill="#131722" font-weight="normal" textLength="48.2" lengthAdjust="spacingAndGlyphs" stroke="#131722" stroke-width="0.14">07:26:24 UTC+1</text>
<rect x="855.5" y="429" width="0.8" height="10" fill="#dfe0e3"/>
<text x="860.3" y="436.27" font-size="6.6" fill="#131722" font-weight="normal" textLength="11.9" lengthAdjust="spacingAndGlyphs" stroke="#131722" stroke-width="0.14">ADJ</text>
<text x="9.3" y="456.94" font-size="6.8" fill="#131722" font-weight="normal" textLength="32.7" lengthAdjust="spacingAndGlyphs" stroke="#131722" stroke-width="0.14">Pine Editor</text>
<text x="58" y="456.94" font-size="6.8" fill="#131722" font-weight="normal" textLength="40.5" lengthAdjust="spacingAndGlyphs" stroke="#131722" stroke-width="0.14">Trading Panel</text>
<path d="M846.8 456.5l4-3.6 4 3.6" fill="none" stroke="#131722" stroke-width="0.9"/>
<path d="M863.5 452.3v-1.5h8v1.5M863.5 455.3v1.5h8v-1.5" fill="none" stroke="#131722" stroke-width="0.9"/>
<path d="M885.6 26.4h9.2v11.3l-4.6-2.3-4.6 2.3z" fill="none" stroke="#131722" stroke-width="0.85" stroke-linejoin="round"/><path d="M887.4 28.9h5.6M887.4 30.8h5.6M887.4 32.7h5.6" fill="none" stroke="#131722" stroke-width="0.6"/>
<circle cx="889.7" cy="53.5" r="4.8" fill="none" stroke="#131722" stroke-width="0.9"/>
<path d="M889.7 50.8v3h2.3M884.3 49.5l1.8-1.8M895.1 49.5l-1.8-1.8" fill="none" stroke="#131722" stroke-width="0.9"/>
<path d="M884.2 73.6l5.6-3 5.6 3-5.6 3z M884.2 76.6l5.6 3 5.6-3" fill="none" stroke="#131722" stroke-width="0.9" stroke-linejoin="round"/>
<path d="M884.3 93.5h8.5v6.5h-5.5l-3 2.5z M894.5 96.5h1.6v6.8l-2.3-1.8h-4.8v-1.5" fill="none" stroke="#131722" stroke-width="0.9" stroke-linejoin="round"/>
<circle cx="890" cy="358" r="5.8" fill="none" stroke="#131722" stroke-width="0.9"/>
<circle cx="890" cy="358" r="3.3" fill="none" stroke="#131722" stroke-width="0.9"/>
<path d="M890 358l3.8-3.8" stroke="#131722" stroke-width="0.9"/><circle cx="890" cy="358" r="0.9" fill="#131722"/>
<path d="M884.2 375.7h11.4v9.5h-11.4zM884.2 378.4h11.4M886.8 374v3M893 374v3" fill="none" stroke="#131722" stroke-width="0.9"/>
<circle cx="890" cy="401.6" r="8" fill="#1e1f23"/>
<rect x="886.3" y="397.9" width="2" height="2" rx="0.4" fill="#fff"/>
<rect x="886.3" y="400.6" width="2" height="2" rx="0.4" fill="#fff"/>
<rect x="886.3" y="403.3" width="2" height="2" rx="0.4" fill="#fff"/>
<rect x="889" y="397.9" width="2" height="2" rx="0.4" fill="#fff"/>
<rect x="889" y="400.6" width="2" height="2" rx="0.4" fill="#fff"/>
<rect x="889" y="403.3" width="2" height="2" rx="0.4" fill="#fff"/>
<rect x="891.7" y="397.9" width="2" height="2" rx="0.4" fill="#fff"/>
<rect x="891.7" y="400.6" width="2" height="2" rx="0.4" fill="#fff"/>
<rect x="891.7" y="403.3" width="2" height="2" rx="0.4" fill="#fff"/>
<path d="M884.6 426.5a9 9 0 0 1 9.2 9.2M884.6 429.1a6.4 6.4 0 0 1 6.6 6.6M884.6 431.7a3.8 3.8 0 0 1 4 4" fill="none" stroke="#131722" stroke-width="0.9"/>
<path d="M884.8 434.4v1.8M883.9 435.3h1.8" stroke="#131722" stroke-width="0.6"/>
<circle cx="890" cy="451" r="5.8" fill="none" stroke="#131722" stroke-width="0.9"/>
<rect x="892.8" y="444" width="3.5" height="3.5" fill="#fff"/><rect x="883.7" y="454.8" width="3" height="3" fill="#fff"/>
<path d="M894.5 444.3l1.5 1.5-1.5 1.5-1.5-1.5z M885.2 455l1.2 1.2-1.2 1.2-1.2-1.2z" fill="none" stroke="#131722" stroke-width="0.7"/>
<path d="M888 449.3a2 2 0 1 1 3 1.7c-.7.4-1 .8-1 1.6" fill="none" stroke="#131722" stroke-width="0.9"/><circle cx="890" cy="454.2" r="0.6" fill="#131722"/>
<path d="M7.2 397.6h6.3v7h-2.6v-4.4h-3.7z" fill="#131722"/>
<circle cx="15.6" cy="399" r="1.4" fill="#131722"/>
<path d="M17.6 397.6h3.5l-3.2 7h-3z" fill="#131722"/>
<text x="24.8" y="403.9" font-size="9.6" fill="#131722" font-weight="bold" textLength="58.2" lengthAdjust="spacingAndGlyphs">TradingView</text>
<path d="M470.6 249v1.2q1 1.2 2 0v-1.2" fill="none" stroke="#6a7a6c" stroke-width="0.55"/>
<path d="M179.3 271.2q0-1.4 1.4-1.4h6.5q1.4 0 1.4 1.4v4.2l-3.6 3h-2.1l-3.6-3z" fill="#fbe9ea" stroke="#8d6d70" stroke-width="0.9"/>
<text x="182.5" y="275.58" font-size="4.6" fill="#6b4c50" font-weight="normal" textLength="3" lengthAdjust="spacingAndGlyphs">E</text>
<path d="M703.8 275.6l2.6-2.4 1 3.6z" fill="#7a4fb0" stroke="#e6d8f5" stroke-width="0.5"/>
<circle cx="709.4" cy="273.6" r="4.5" fill="#fff" stroke="#3c3c44" stroke-width="0.85"/>
<path d="M710.6 271.2l-2.6 2.6h2.2l-2 2.3" fill="none" stroke="#2c2c34" stroke-width="0.8"/>
<rect x="780.4" y="269.5" width="8.3" height="8.8" rx="0.8" fill="#fff" stroke="#a77fd6" stroke-width="0.8"/>
<path d="M785.9 271.6h-2.6v4.6h2.6M783.3 273.9h2.2" fill="none" stroke="#8c78a8" stroke-width="0.6"/>
</svg>
</body></html>
